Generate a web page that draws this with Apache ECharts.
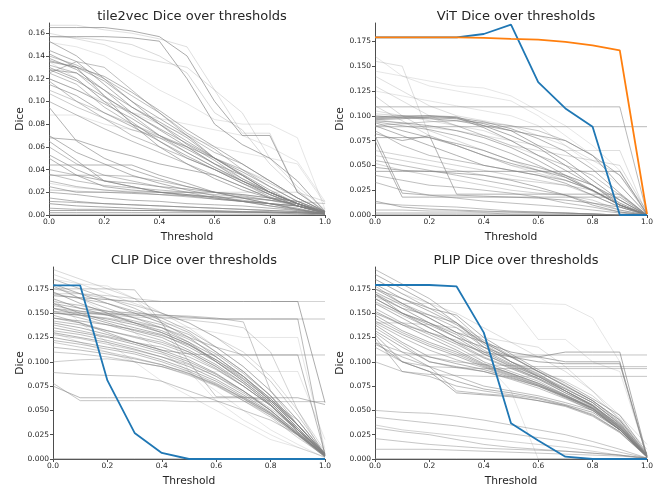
<!DOCTYPE html>
<html>
<head>
<meta charset="utf-8">
<script src="https://cdn.jsdelivr.net/npm/echarts@6/dist/echarts.min.js"></script>
<style>
  html, body { margin: 0; padding: 0; background: #fff; }
  #chart { width: 661px; height: 492px; }
</style>
</head>
<body>
<div id="chart"></div>
<script>
var thresholds = [0, 0.1, 0.2, 0.3, 0.4, 0.5, 0.6, 0.7, 0.8, 0.9, 1.0];
var xTicks = [0, 0.2, 0.4, 0.6, 0.8, 1.0];
var tile2vecTicks = [0, 0.02, 0.04, 0.06, 0.08, 0.10, 0.12, 0.14, 0.16];
var bigTicks = [0, 0.025, 0.05, 0.075, 0.1, 0.125, 0.15, 0.175];

// tile2vec, one row per tile
var tile2vecLines = [
  [0.165,0.165,0.165,0.162,0.157,0.14,0.10,0.07,0.07,0.02,0.003],
  [0.167,0.167,0.163,0.160,0.155,0.148,0.11,0.072,0.072,0.02,0.004],
  [0.157,0.157,0.157,0.156,0.153,0.12,0.08,0.062,0.05,0.03,0.003],
  [0.157,0.156,0.154,0.15,0.14,0.125,0.09,0.075,0.045,0.022,0.002],
  [0.152,0.148,0.14,0.125,0.11,0.098,0.084,0.08,0.08,0.068,0.005],
  [0.16,0.155,0.15,0.14,0.135,0.13,0.11,0.09,0.05,0.025,0.005],
  [0.153,0.14,0.12,0.10,0.085,0.07,0.05,0.035,0.02,0.01,0.002],
  [0.145,0.135,0.115,0.095,0.08,0.065,0.05,0.035,0.02,0.01,0.002],
  [0.14,0.132,0.12,0.105,0.09,0.072,0.058,0.04,0.025,0.012,0.003],
  [0.138,0.128,0.11,0.09,0.075,0.06,0.045,0.03,0.018,0.008,0.002],
  [0.135,0.13,0.118,0.1,0.08,0.062,0.048,0.032,0.02,0.01,0.002],
  [0.132,0.125,0.105,0.088,0.07,0.055,0.042,0.03,0.018,0.008,0.002],
  [0.13,0.12,0.1,0.082,0.065,0.05,0.04,0.028,0.016,0.008,0.001],
  [0.128,0.125,0.11,0.095,0.082,0.068,0.05,0.036,0.022,0.01,0.002],
  [0.125,0.115,0.095,0.08,0.068,0.055,0.042,0.03,0.02,0.01,0.002],
  [0.12,0.11,0.098,0.085,0.07,0.058,0.045,0.035,0.02,0.01,0.003],
  [0.118,0.1,0.085,0.07,0.06,0.05,0.04,0.03,0.02,0.01,0.002],
  [0.115,0.105,0.09,0.078,0.065,0.052,0.04,0.028,0.018,0.01,0.002],
  [0.11,0.1,0.09,0.08,0.07,0.06,0.045,0.032,0.02,0.01,0.003],
  [0.107,0.095,0.085,0.075,0.068,0.06,0.05,0.04,0.028,0.015,0.003],
  [0.142,0.13,0.105,0.08,0.06,0.045,0.032,0.022,0.015,0.008,0.002],
  [0.125,0.135,0.13,0.11,0.09,0.07,0.055,0.045,0.03,0.015,0.003],
  [0.1,0.088,0.076,0.065,0.055,0.045,0.035,0.025,0.015,0.008,0.001],
  [0.095,0.065,0.05,0.04,0.032,0.025,0.02,0.015,0.01,0.005,0.001],
  [0.088,0.088,0.08,0.075,0.07,0.06,0.05,0.04,0.03,0.015,0.003],
  [0.135,0.12,0.1,0.09,0.08,0.07,0.06,0.055,0.05,0.045,0.01],
  [0.12,0.11,0.1,0.09,0.085,0.08,0.075,0.07,0.06,0.047,0.012],
  [0.07,0.055,0.045,0.035,0.028,0.022,0.017,0.012,0.008,0.005,0.001],
  [0.065,0.048,0.03,0.025,0.02,0.017,0.014,0.012,0.01,0.008,0.002],
  [0.06,0.045,0.035,0.03,0.025,0.02,0.015,0.012,0.008,0.004,0.001],
  [0.053,0.04,0.03,0.025,0.02,0.018,0.015,0.012,0.01,0.008,0.002],
  [0.05,0.035,0.025,0.022,0.02,0.018,0.016,0.013,0.01,0.006,0.001],
  [0.044,0.044,0.044,0.044,0.035,0.028,0.02,0.015,0.01,0.005,0.001],
  [0.04,0.035,0.035,0.034,0.03,0.025,0.02,0.017,0.013,0.008,0.002],
  [0.035,0.035,0.03,0.028,0.025,0.023,0.02,0.018,0.015,0.012,0.003],
  [0.03,0.025,0.022,0.02,0.018,0.016,0.014,0.012,0.01,0.008,0.002],
  [0.025,0.02,0.02,0.019,0.018,0.017,0.016,0.015,0.013,0.01,0.002],
  [0.022,0.021,0.02,0.02,0.02,0.02,0.02,0.018,0.015,0.012,0.01],
  [0.02,0.018,0.015,0.013,0.012,0.01,0.009,0.008,0.006,0.004,0.001],
  [0.015,0.012,0.01,0.009,0.008,0.007,0.006,0.005,0.004,0.003,0.001],
  [0.012,0.011,0.01,0.009,0.008,0.007,0.006,0.005,0.004,0.003,0.001],
  [0.01,0.008,0.007,0.006,0.005,0.004,0.004,0.003,0.002,0.002,0.001],
  [0.006,0.005,0.005,0.004,0.004,0.003,0.003,0.002,0.002,0.001,0],
  [0.004,0.004,0.004,0.004,0.004,0.004,0.003,0.003,0.003,0.002,0.001],
  [0.002,0.002,0.002,0.002,0.002,0.002,0.002,0.002,0.002,0.002,0.001],
  [0,0,0,0,0,0,0,0,0,0,0],
  [0.028,0.024,0.022,0.021,0.02,0.02,0.02,0.02,0.02,0.02,0.012],
  [0.068,0.066,0.058,0.052,0.045,0.04,0.035,0.025,0.015,0.008,0.002],
  [0.136,0.13,0.122,0.108,0.092,0.075,0.06,0.045,0.03,0.015,0.003],
  [0.128,0.118,0.104,0.09,0.076,0.063,0.05,0.038,0.025,0.012,0.002],
  [0.036,0.03,0.026,0.024,0.022,0.02,0.018,0.016,0.013,0.01,0.002]
];
var tile2vecAlpha = [0.65,0.25,0.65,0.3,0.2,0.25,0.6,0.6,0.5,0.6,0.6,0.5,0.6,0.6,0.5,0.6,0.5,0.6,0.4,0.4,0.6,0.5,0.5,0.6,0.2,0.2,0.2,
  0.6,0.6,0.5,0.6,0.6,0.6,0.5,0.6,0.5,0.6,0.4,0.6,0.6,0.6,0.7,0.6,0.7,0.7,0.85,0.25,0.6,0.6,0.6,0.5];

// ViT
var vitLines = [
  [0.109,0.109,0.109,0.109,0.109,0.109,0.109,0.109,0.109,0.109,0.001],
  [0.089,0.089,0.089,0.089,0.089,0.089,0.089,0.089,0.089,0.089,0.089],
  [0.044,0.044,0.044,0.044,0.044,0.044,0.044,0.044,0.044,0.044,0.001],
  [0.098,0.099,0.1,0.099,0.09,0.08,0.068,0.05,0.03,0.01,0],
  [0.097,0.098,0.098,0.097,0.092,0.085,0.07,0.055,0.035,0.015,0],
  [0.096,0.097,0.099,0.098,0.088,0.075,0.06,0.045,0.03,0.012,0],
  [0.095,0.093,0.09,0.085,0.078,0.068,0.055,0.04,0.025,0.01,0],
  [0.1,0.098,0.097,0.095,0.09,0.085,0.08,0.075,0.06,0.03,0.001],
  [0.093,0.085,0.078,0.07,0.06,0.052,0.045,0.038,0.025,0.01,0],
  [0.09,0.08,0.07,0.06,0.05,0.045,0.04,0.032,0.02,0.008,0],
  [0.078,0.078,0.078,0.072,0.065,0.055,0.048,0.04,0.03,0.015,0],
  [0.085,0.07,0.06,0.055,0.05,0.045,0.04,0.035,0.025,0.01,0],
  [0.08,0.022,0.02,0.02,0.019,0.018,0.017,0.015,0.012,0.008,0],
  [0.075,0.018,0.018,0.018,0.018,0.018,0.018,0.018,0.018,0.018,0],
  [0.082,0.075,0.08,0.021,0.021,0.021,0.021,0.021,0.021,0.021,0],
  [0.055,0.05,0.045,0.04,0.035,0.03,0.025,0.02,0.012,0.005,0],
  [0.048,0.045,0.044,0.042,0.04,0.035,0.028,0.02,0.01,0.003,0],
  [0.04,0.035,0.03,0.028,0.025,0.022,0.018,0.012,0.008,0.003,0],
  [0.033,0.025,0.02,0.017,0.014,0.012,0.01,0.008,0.005,0.002,0],
  [0.014,0.008,0.006,0.005,0.004,0.003,0.003,0.002,0.001,0,0],
  [0.012,0.01,0.009,0.008,0.006,0.004,0.003,0.002,0.001,0,0],
  [0.005,0.005,0.004,0.004,0.003,0.003,0.002,0.002,0.001,0,0],
  [0.002,0.002,0.002,0.002,0.002,0.001,0.001,0.001,0.001,0,0],
  [0,0,0,0,0,0,0,0,0,0,0],
  [0.16,0.14,0.13,0.125,0.12,0.115,0.1,0.08,0.06,0.04,0.002],
  [0.155,0.15,0.08,0.07,0.06,0.05,0.045,0.04,0.03,0.015,0],
  [0.145,0.14,0.135,0.13,0.128,0.12,0.105,0.09,0.07,0.045,0],
  [0.14,0.125,0.11,0.1,0.095,0.09,0.08,0.07,0.055,0.04,0.005],
  [0.13,0.115,0.1,0.09,0.08,0.07,0.06,0.05,0.04,0.02,0],
  [0.125,0.12,0.115,0.11,0.105,0.1,0.09,0.07,0.05,0.03,0],
  [0.12,0.1,0.085,0.075,0.065,0.055,0.045,0.035,0.025,0.01,0],
  [0.11,0.095,0.08,0.07,0.06,0.05,0.042,0.035,0.025,0.012,0],
  [0.105,0.1,0.095,0.09,0.085,0.075,0.06,0.05,0.04,0.02,0],
  [0.102,0.1,0.098,0.09,0.08,0.07,0.065,0.06,0.055,0.05,0.003],
  [0.097,0.092,0.088,0.085,0.08,0.075,0.07,0.065,0.065,0.065,0],
  [0.065,0.06,0.055,0.05,0.045,0.04,0.035,0.03,0.02,0.008,0],
  [0.06,0.055,0.05,0.045,0.04,0.036,0.033,0.03,0.025,0.01,0],
  [0.052,0.045,0.04,0.035,0.03,0.025,0.022,0.02,0.015,0.005,0],
  [0.09,0.092,0.094,0.095,0.093,0.09,0.085,0.075,0.06,0.04,0.001],
  [0.099,0.1,0.1,0.098,0.094,0.087,0.077,0.064,0.046,0.022,0],
  [0.094,0.09,0.086,0.08,0.072,0.062,0.05,0.038,0.024,0.01,0]
];
var vitAlpha = [0.55,0.55,0.65,0.65,0.65,0.6,0.6,0.6,0.6,0.6,0.6,0.5,0.6,0.6,0.6,0.5,0.6,0.5,0.5,0.6,0.5,0.5,0.6,0.85,
  0.2,0.25,0.2,0.25,0.25,0.2,0.3,0.3,0.25,0.3,0.25,0.35,0.35,0.35,0.45,0.6,0.55];
var vitBlue = [0.179,0.179,0.179,0.179,0.1824,0.1918,0.1339,0.1074,0.089,0,0];
var vitOrange = [0.179,0.179,0.179,0.179,0.1785,0.1774,0.1767,0.1744,0.171,0.166,0.001];

// CLIP
var clipLines = [
  [0.17,0.17,0.168,0.165,0.162,0.162,0.162,0.162,0.162,0.162,0.162],
  [0.168,0.166,0.164,0.162,0.162,0.162,0.162,0.162,0.162,0.162,0.058],
  [0.155,0.152,0.15,0.148,0.146,0.145,0.144,0.144,0.144,0.144,0.144],
  [0.16,0.155,0.152,0.15,0.148,0.146,0.144,0.144,0.144,0.144,0.003],
  [0.15,0.148,0.145,0.14,0.135,0.125,0.115,0.107,0.107,0.107,0.107],
  [0.145,0.14,0.13,0.12,0.112,0.108,0.107,0.107,0.107,0.107,0.005],
  [0.078,0.06,0.06,0.06,0.06,0.059,0.059,0.059,0.059,0.059,0.059],
  [0.075,0.063,0.063,0.063,0.063,0.063,0.063,0.063,0.063,0.063,0.056],
  [0.089,0.087,0.086,0.085,0.08,0.07,0.06,0.05,0.04,0.025,0.002],
  [0.19,0.18,0.17,0.16,0.15,0.135,0.115,0.095,0.07,0.04,0.005],
  [0.185,0.175,0.165,0.155,0.142,0.13,0.11,0.09,0.065,0.035,0.005],
  [0.18,0.17,0.16,0.15,0.14,0.125,0.105,0.085,0.06,0.035,0.004],
  [0.178,0.165,0.155,0.145,0.135,0.12,0.1,0.08,0.058,0.03,0.003],
  [0.175,0.17,0.165,0.158,0.15,0.14,0.125,0.105,0.08,0.045,0.006],
  [0.172,0.16,0.15,0.14,0.13,0.118,0.1,0.082,0.06,0.032,0.004],
  [0.17,0.165,0.16,0.152,0.145,0.132,0.115,0.095,0.07,0.04,0.005],
  [0.165,0.155,0.148,0.14,0.132,0.12,0.105,0.085,0.062,0.035,0.004],
  [0.162,0.158,0.152,0.145,0.138,0.128,0.11,0.09,0.065,0.03,0.003],
  [0.16,0.15,0.142,0.135,0.128,0.115,0.1,0.08,0.058,0.03,0.004],
  [0.158,0.152,0.148,0.142,0.135,0.123,0.108,0.088,0.065,0.035,0.006],
  [0.155,0.148,0.14,0.132,0.125,0.112,0.097,0.078,0.056,0.028,0.003],
  [0.152,0.145,0.138,0.13,0.122,0.11,0.095,0.075,0.055,0.03,0.004],
  [0.15,0.148,0.144,0.138,0.13,0.118,0.102,0.085,0.062,0.035,0.005],
  [0.148,0.14,0.132,0.125,0.118,0.108,0.093,0.075,0.055,0.028,0.003],
  [0.145,0.142,0.138,0.133,0.127,0.117,0.102,0.083,0.06,0.032,0.004],
  [0.142,0.138,0.132,0.126,0.12,0.11,0.095,0.078,0.056,0.03,0.004],
  [0.14,0.135,0.128,0.12,0.112,0.102,0.088,0.07,0.05,0.027,0.003],
  [0.138,0.132,0.126,0.12,0.115,0.105,0.092,0.075,0.055,0.03,0.005],
  [0.135,0.13,0.125,0.118,0.11,0.1,0.087,0.07,0.05,0.027,0.003],
  [0.132,0.128,0.122,0.115,0.108,0.098,0.085,0.068,0.05,0.025,0.003],
  [0.13,0.125,0.12,0.113,0.105,0.095,0.082,0.066,0.048,0.025,0.004],
  [0.128,0.124,0.118,0.112,0.105,0.097,0.085,0.07,0.052,0.03,0.006],
  [0.125,0.12,0.115,0.11,0.102,0.092,0.08,0.064,0.047,0.025,0.003],
  [0.122,0.118,0.113,0.108,0.1,0.09,0.078,0.062,0.045,0.024,0.002],
  [0.12,0.115,0.11,0.104,0.097,0.088,0.076,0.06,0.043,0.022,0.003],
  [0.115,0.112,0.108,0.103,0.097,0.088,0.077,0.063,0.047,0.026,0.004],
  [0.11,0.108,0.105,0.1,0.095,0.086,0.075,0.06,0.045,0.025,0.003],
  [0.1,0.102,0.103,0.1,0.095,0.087,0.076,0.062,0.046,0.026,0.004],
  [0.175,0.175,0.175,0.174,0.14,0.1,0.064,0.064,0.06,0.04,0.005],
  [0.185,0.18,0.178,0.165,0.14,0.09,0.06,0.04,0.025,0.012,0.002],
  [0.165,0.14,0.12,0.1,0.08,0.065,0.05,0.035,0.02,0.012,0.002],
  [0.18,0.165,0.15,0.13,0.11,0.09,0.07,0.05,0.03,0.015,0.001],
  [0,0,0,0,0,0,0,0,0,0,0],
  [0.155,0.15,0.148,0.146,0.145,0.143,0.14,0.135,0.11,0.05,0.003],
  [0.15,0.15,0.15,0.15,0.14,0.135,0.13,0.125,0.125,0.125,0.01],
  [0.13,0.12,0.11,0.1,0.095,0.09,0.09,0.09,0.09,0.09,0.02],
  [0.195,0.185,0.175,0.165,0.15,0.14,0.125,0.11,0.085,0.05,0.008],
  [0.152,0.15,0.149,0.148,0.148,0.147,0.145,0.141,0.07,0.035,0.005]
];
var clipAlpha = [0.35,0.65,0.45,0.55,0.45,0.55,0.45,0.55,0.45,0.25,0.5,0.6,0.5,0.4,0.6,0.5,0.6,0.5,0.6,0.5,0.6,0.5,0.6,0.5,0.6,0.5,0.6,0.5,0.6,0.5,0.6,0.4,0.6,0.5,0.4,0.5,0.4,0.4,
  0.45,0.2,0.2,0.2,0.85,0.35,0.2,0.2,0.3,0.45];
var clipBlue = [0.1785,0.1785,0.0808,0.0268,0.0062,0,0,0,0,0,0];

// PLIP
var plipLines = [
  [0.107,0.107,0.107,0.107,0.107,0.107,0.107,0.107,0.107,0.107,0.107],
  [0.12,0.11,0.105,0.1,0.097,0.096,0.095,0.095,0.095,0.095,0.095],
  [0.115,0.1,0.095,0.094,0.093,0.093,0.093,0.093,0.093,0.093,0.093],
  [0.1,0.09,0.087,0.086,0.085,0.085,0.085,0.085,0.085,0.085,0.085],
  [0.175,0.16,0.145,0.13,0.12,0.11,0.105,0.1,0.1,0.1,0.002],
  [0.17,0.155,0.14,0.125,0.115,0.105,0.1,0.098,0.098,0.098,0.001],
  [0.165,0.15,0.135,0.12,0.11,0.105,0.105,0.11,0.11,0.11,0.003],
  [0.17,0.16,0.16,0.16,0.16,0.159,0.123,0.123,0.1,0.09,0.003],
  [0.165,0.16,0.16,0.16,0.16,0.16,0.16,0.159,0.145,0.1,0.002],
  [0.15,0.14,0.13,0.12,0.1,0.07,0,0,0,0,0],
  [0.195,0.18,0.165,0.145,0.12,0.105,0.09,0.075,0.06,0.04,0.005],
  [0.19,0.175,0.16,0.14,0.118,0.1,0.085,0.07,0.055,0.035,0.004],
  [0.185,0.17,0.155,0.14,0.115,0.1,0.087,0.073,0.058,0.037,0.003],
  [0.18,0.165,0.152,0.138,0.12,0.105,0.09,0.075,0.06,0.04,0.004],
  [0.178,0.16,0.148,0.135,0.115,0.1,0.088,0.07,0.055,0.032,0.002],
  [0.175,0.165,0.155,0.148,0.125,0.108,0.092,0.078,0.062,0.045,0.006],
  [0.172,0.158,0.145,0.13,0.112,0.098,0.086,0.072,0.058,0.036,0.003],
  [0.17,0.15,0.14,0.128,0.11,0.097,0.085,0.07,0.056,0.034,0.003],
  [0.168,0.155,0.148,0.14,0.122,0.106,0.09,0.076,0.06,0.038,0.004],
  [0.165,0.15,0.138,0.125,0.108,0.095,0.083,0.07,0.055,0.033,0.003],
  [0.162,0.148,0.135,0.12,0.105,0.094,0.083,0.068,0.054,0.032,0.002],
  [0.16,0.145,0.13,0.118,0.104,0.093,0.082,0.068,0.055,0.034,0.003],
  [0.155,0.14,0.128,0.115,0.1,0.09,0.08,0.066,0.053,0.032,0.003],
  [0.152,0.138,0.125,0.112,0.098,0.088,0.078,0.066,0.052,0.031,0.002],
  [0.15,0.138,0.13,0.122,0.108,0.096,0.085,0.072,0.058,0.036,0.004],
  [0.148,0.132,0.12,0.11,0.097,0.088,0.078,0.065,0.052,0.03,0.002],
  [0.145,0.13,0.118,0.108,0.096,0.087,0.077,0.064,0.052,0.03,0.003],
  [0.142,0.128,0.116,0.106,0.095,0.086,0.076,0.064,0.051,0.03,0.002],
  [0.14,0.125,0.112,0.102,0.094,0.085,0.076,0.065,0.053,0.033,0.003],
  [0.138,0.12,0.105,0.098,0.092,0.084,0.075,0.063,0.05,0.03,0.002],
  [0.135,0.118,0.1,0.094,0.09,0.082,0.073,0.062,0.05,0.03,0.003],
  [0.132,0.115,0.1,0.095,0.09,0.083,0.075,0.064,0.052,0.032,0.003],
  [0.13,0.11,0.095,0.085,0.075,0.07,0.065,0.058,0.05,0.03,0.002],
  [0.128,0.1,0.09,0.08,0.072,0.068,0.063,0.056,0.048,0.03,0.002],
  [0.125,0.09,0.085,0.075,0.07,0.066,0.062,0.055,0.046,0.028,0.002],
  [0.12,0.1,0.09,0.068,0.066,0.064,0.06,0.055,0.045,0.028,0.002],
  [0.118,0.105,0.095,0.07,0.067,0.065,0.06,0.054,0.044,0.027,0.002],
  [0.05,0.048,0.047,0.044,0.04,0.035,0.03,0.025,0.018,0.01,0.001],
  [0.043,0.04,0.037,0.034,0.03,0.026,0.022,0.018,0.013,0.007,0.001],
  [0.035,0.03,0.027,0.024,0.021,0.018,0.015,0.012,0.008,0.004,0],
  [0.032,0.028,0.025,0.02,0.015,0.012,0.01,0.008,0.006,0.004,0.001],
  [0.021,0.018,0.015,0.013,0.011,0.01,0.009,0.008,0.006,0.004,0.001],
  [0.01,0.01,0.01,0.009,0.008,0.007,0.006,0.005,0.004,0.003,0.001],
  [0,0,0,0,0,0,0,0,0,0,0],
  [0.185,0.17,0.16,0.15,0.135,0.12,0.105,0.09,0.07,0.045,0.015],
  [0.16,0.15,0.14,0.13,0.125,0.12,0.115,0.095,0.07,0.04,0.01],
  [0.14,0.14,0.138,0.135,0.12,0.1,0.09,0.08,0.065,0.042,0.005]
];
var plipAlpha = [0.45,0.45,0.45,0.45,0.65,0.65,0.65,0.2,0.2,0.2,0.5,0.6,0.5,0.6,0.5,0.6,0.5,0.6,0.5,0.6,0.5,0.6,0.5,0.6,0.5,0.6,0.5,0.6,0.5,0.6,0.5,0.6,0.5,0.6,0.5,0.6,0.5,
  0.45,0.45,0.35,0.45,0.45,0.45,0.85,0.25,0.25,0.35];
var plipBlue = [0.179,0.179,0.179,0.1775,0.13,0.0368,0.019,0.0024,0,0,0];

var FONT = 'DejaVu Sans';
var TEXT = '#262626';
var SPINE = '#4d4d4d';

var panels = [
  { title: 'tile2vec Dice over thresholds', grid: { left: 49, top: 23, width: 276, height: 192 }, ymax: 0.169, ticks: tile2vecTicks, digits: 2, yGap: 23 },
  { title: 'ViT Dice over thresholds', grid: { left: 375, top: 23, width: 272, height: 192 }, ymax: 0.1935, ticks: bigTicks, digits: 3, yGap: 29 },
  { title: 'CLIP Dice over thresholds', grid: { left: 53, top: 267, width: 272, height: 192 }, ymax: 0.1975, ticks: bigTicks, digits: 3, yGap: 27 },
  { title: 'PLIP Dice over thresholds', grid: { left: 375, top: 267, width: 272, height: 192 }, ymax: 0.1975, ticks: bigTicks, digits: 3, yGap: 29 }
];

function pairs(values) {
  var out = [];
  for (var i = 0; i < values.length; i++) {
    out.push([thresholds[i], values[i]]);
  }
  return out;
}

function grayLines(lines, alphas, idx) {
  var out = [];
  for (var i = 0; i < lines.length; i++) {
    out.push({
      type: 'line',
      xAxisIndex: idx,
      yAxisIndex: idx,
      data: pairs(lines[i]),
      showSymbol: false,
      silent: true,
      lineStyle: { color: '#808080', width: 1, opacity: alphas[i] }
    });
  }
  return out;
}

function colorLine(values, color, idx) {
  return {
    type: 'line',
    xAxisIndex: idx,
    yAxisIndex: idx,
    data: pairs(values),
    showSymbol: false,
    silent: true,
    z: 3,
    lineStyle: { color: color, width: 1.8 }
  };
}

var chart = echarts.init(document.getElementById('chart'), null, { renderer: 'canvas' });

var titles = [], grids = [], xAxes = [], yAxes = [];
panels.forEach(function (p, i) {
  grids.push(p.grid);
  titles.push({
    text: p.title,
    left: p.grid.left + p.grid.width / 2,
    top: p.grid.top - 18,
    textAlign: 'center',
    textStyle: { fontFamily: FONT, fontSize: 13, fontWeight: 'normal', color: TEXT }
  });
  xAxes.push({
    type: 'value',
    gridIndex: i,
    min: 0,
    max: 1,
    interval: 0.2,
    name: 'Threshold',
    nameLocation: 'middle',
    nameGap: 17,
    nameMoveOverlap: false,
    nameTextStyle: { fontFamily: FONT, fontSize: 10.7, color: TEXT },
    axisLine: { lineStyle: { color: SPINE, width: 1 } },
    axisTick: { show: true, length: 3, lineStyle: { color: SPINE }, customValues: xTicks },
    axisLabel: { fontFamily: FONT, fontSize: 7.5, color: TEXT, margin: 3, customValues: xTicks, formatter: function (v) { return v.toFixed(1); } },
    splitLine: { show: false }
  });
  yAxes.push({
    type: 'value',
    gridIndex: i,
    min: 0,
    max: p.ymax,
    name: 'Dice',
    nameLocation: 'middle',
    nameGap: p.yGap,
    nameRotate: 90,
    nameMoveOverlap: false,
    nameTextStyle: { fontFamily: FONT, fontSize: 10.7, color: TEXT },
    axisLine: { show: true, lineStyle: { color: SPINE, width: 1 } },
    axisTick: { show: true, length: 3, lineStyle: { color: SPINE }, customValues: p.ticks },
    axisLabel: {
      fontFamily: FONT, fontSize: 7.5, color: TEXT, margin: 4,
      customValues: p.ticks,
      formatter: (function (d) { return function (v) { return v.toFixed(d); }; })(p.digits)
    },
    splitLine: { show: false }
  });
});

var series = []
  .concat(grayLines(tile2vecLines, tile2vecAlpha, 0))
  .concat(grayLines(vitLines, vitAlpha, 1))
  .concat([colorLine(vitBlue, '#1f77b4', 1), colorLine(vitOrange, '#ff7f0e', 1)])
  .concat(grayLines(clipLines, clipAlpha, 2))
  .concat([colorLine(clipBlue, '#1f77b4', 2)])
  .concat(grayLines(plipLines, plipAlpha, 3))
  .concat([colorLine(plipBlue, '#1f77b4', 3)]);

chart.setOption({
  animation: false,
  backgroundColor: '#ffffff',
  title: titles,
  grid: grids,
  xAxis: xAxes,
  yAxis: yAxes,
  series: series
});
</script>
</body>
</html>
